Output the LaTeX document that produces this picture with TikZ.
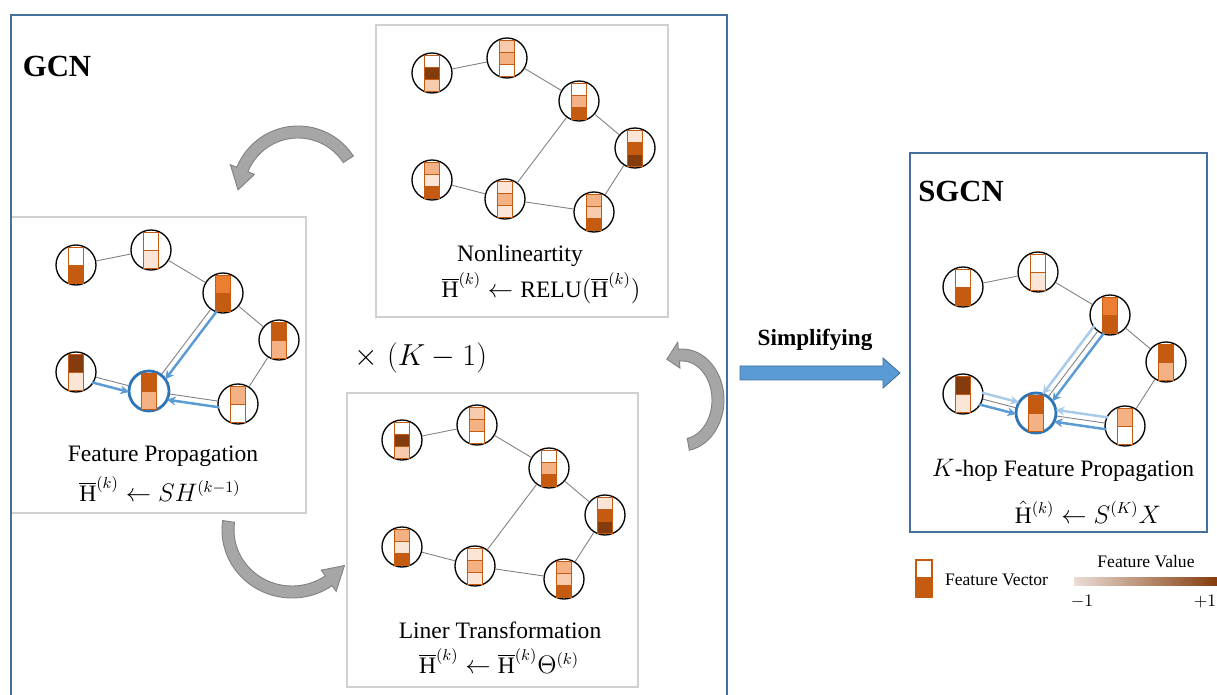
\documentclass[tikz,border=0pt]{standalone}
\usepackage{fontspec}
\setmainfont{Liberation Serif}
\usetikzlibrary{arrows.meta, calc}
\definecolor{cframe}{HTML}{41719C}
\definecolor{cpanel}{HTML}{D0D0D0}
\definecolor{cpale}{HTML}{FBE5D6}
\definecolor{cpeach}{HTML}{F8CBAD}
\definecolor{cmid}{HTML}{F4B183}
\definecolor{corange}{HTML}{ED7D31}
\definecolor{cdark}{HTML}{C55A11}
\definecolor{cbrown}{HTML}{843C0C}
\definecolor{cblue}{HTML}{5B9BD5}
\definecolor{clight}{HTML}{A9CBEA}
\definecolor{cring}{HTML}{2E75B6}
\definecolor{cgarrow}{HTML}{A6A6A6}
\definecolor{cgline}{HTML}{808080}
\definecolor{clow}{HTML}{EBDDD7}
\tikzset{
  every picture/.style={x=0.02cm, y=-0.02cm},
  gcnframe/.style={draw=cframe, line width=1.3pt},
  panel/.style={draw=cpanel, line width=0.8pt},
  vec/.style={circle, draw=black, fill=white, line width=0.75pt, minimum size=0.8cm, inner sep=0pt},
  hub/.style={vec, draw=cring, line width=1.6pt},
  link/.style={draw=cgline, line width=0.5pt},
  prop/.style={-{Stealth[length=5pt, width=5pt]}, draw=cblue, line width=1.4pt, shorten <=0.36cm, shorten >=0.38cm},
  propl/.style={prop, draw=clight},
  cyc/.style={fill=cgarrow, draw=cgline, line width=0.5pt},
  lbl/.style={font=\fontsize{13.4}{16}\selectfont, inner sep=1pt},
  title/.style={font=\fontsize{17.5}{20}\selectfont\bfseries},
  note/.style={font=\fontsize{10}{12}\selectfont, inner sep=1pt},
}
% one graph node with its feature vector (cells from the top)
\newcommand{\fvnode}[6][vec]{%
  \node[#1] (#2) at (#3,#4) {};
  \edef\fvlist{#6}%
  \foreach \c [count=\i from 0] in \fvlist
    \filldraw[fill=\c, draw=cdark, line width=0.5pt] ({#3-7.5},{#4-18+\i*#5}) rectangle ++(15,#5);
}
% graph with three-cell vectors, node 1 at (#2,#3)
\newcommand{\gcnthree}[3]{%
  \foreach \k/\dx/\dy/\cs in {1/0/0/{white,cbrown,cpeach}, 2/75/-15/{cpeach,cmid,white},
      3/147/28/{white,cmid,cdark}, 4/203/75/{cpale,cdark,cbrown}, 5/0/107/{cmid,cpale,cdark},
      6/73/126/{cpale,cmid,cpale}, 7/162/139/{cmid,cpeach,cdark}}
    {\fvnode{#1\k}{#2+\dx}{#3+\dy}{12}{\cs}}
  \foreach \a/\b in {1/2,2/3,3/4,4/7,3/6,5/6,6/7}
    \draw[link] (#1\a) -- (#1\b);
}
% graph with two-cell vectors, node 6 is the target
\newcommand{\gcntwo}[3]{%
  \foreach \k/\dx/\dy/\cs in {1/0/0/{white,cdark}, 2/75/-15/{white,cpale},
      3/147/28/{corange,cdark}, 4/203/75/{cdark,cmid}, 5/0/107/{cbrown,cpale},
      7/162/139/{cmid,white}}
    {\fvnode{#1\k}{#2+\dx}{#3+\dy}{18}{\cs}}
  \fvnode[hub]{#16}{#2+73}{#3+126}{18}{cdark,cmid}
  \foreach \a/\b in {1/2,2/3,3/4,4/7,3/6,5/6,6/7}
    \draw[link] (#1\a) -- (#1\b);
}
% grey cycle arrow on an elliptic arc
\newcommand{\cycarrow}[6]{%
  \filldraw[cyc] ($(#1,#2)+(#5:{#3+6} and {#4+6})$)
    arc[start angle=#5, end angle=#6, x radius={#3+6}, y radius={#4+6}]
    -- ($(#1,#2)+(#6:{#3+13} and {#4+13})$)
    -- ($(#1,#2)+(#6-20:#3 and #4)$)
    -- ($(#1,#2)+(#6:{#3-13} and {#4-13})$)
    -- ($(#1,#2)+(#6:{#3-6} and {#4-6})$)
    arc[start angle=#6, end angle=#5, x radius={#3-6}, y radius={#4-6}]
    -- cycle;
}

\begin{document}
\begin{tikzpicture}
  \path[use as bounding box, fill=white] (0,0) rectangle (1217,695);
  % the three GCN steps
  \draw[panel] (376,25) rectangle (668,317);
  \draw[panel] (11,217) rectangle (306,513);
  \draw[panel] (347,393) rectangle (638,687);
  \gcnthree{nl}{432}{73}
  \gcnthree{lt}{402}{440}
  \gcntwo{fp}{76}{265}
  \draw[prop] ($(fp3)!0.12cm!90:(fp6)$) -- ($(fp6)!0.12cm!-90:(fp3)$);
  \draw[prop] ($(fp5)!0.12cm!-90:(fp6)$) -- ($(fp6)!0.12cm!90:(fp5)$);
  \draw[prop] ($(fp7)!0.12cm!90:(fp6)$) -- ($(fp6)!0.12cm!-90:(fp7)$);
  \node[lbl] (nltxt) at (520,256) {Nonlineartity};
  \node[lbl] (nlfx) at (541,288) {$\overline{\mathrm{H}}^{(k)} \leftarrow \mathrm{RELU}(\overline{\mathrm{H}}^{(k)})$};
  \node[lbl] (fptxt) at (163,456) {Feature Propagation};
  \node[lbl] (fpfx) at (160,489) {$\overline{\mathrm{H}}^{(k)} \leftarrow SH^{(k-1)}$};
  \node[lbl] (lttxt) at (500,630) {Liner Transformation};
  \node[lbl] (ltfx) at (499,661) {$\overline{\mathrm{H}}^{(k)} \leftarrow \overline{\mathrm{H}}^{(k)}\Theta^{(k)}$};
  \node[font=\fontsize{16}{19}\selectfont] (rep) at (421,358) {$\times\;(K-1)$};
  \cycarrow{298}{192}{60}{60}{-33}{-158}
  \cycarrow{292}{530}{64}{62}{188}{55}
  \cycarrow{682}{400}{36}{45}{80}{-95}
  \draw[gcnframe] (11,695) |- (727,15) -- (727,695);
  \node[title] (gcn) at (57,66) {GCN};
  % simplifying
  \node[font=\fontsize{13.2}{16}\selectfont\bfseries] (simp) at (815,340) {Simplifying};
  \filldraw[fill=cblue, draw=cframe, line width=0.5pt] (740,366) -- (883,366) -- (883,358) -- (900,373)
    -- (883,388) -- (883,380) -- (740,380) -- cycle;
  % SGCN
  \draw[gcnframe] (910,153) rectangle (1207,532);
  \node[title] (sgcn) at (961,191) {SGCN};
  \gcntwo{sg}{963}{287}
  \draw[propl] ($(sg3)!0.12cm!-90:(sg6)$) -- ($(sg6)!0.12cm!90:(sg3)$);
  \draw[propl] ($(sg5)!0.12cm!90:(sg6)$) -- ($(sg6)!0.12cm!-90:(sg5)$);
  \draw[propl] ($(sg7)!0.12cm!-90:(sg6)$) -- ($(sg6)!0.12cm!90:(sg7)$);
  \draw[prop] ($(sg3)!0.12cm!90:(sg6)$) -- ($(sg6)!0.12cm!-90:(sg3)$);
  \draw[prop] ($(sg5)!0.12cm!-90:(sg6)$) -- ($(sg6)!0.12cm!90:(sg5)$);
  \draw[prop] ($(sg7)!0.12cm!90:(sg6)$) -- ($(sg6)!0.12cm!-90:(sg7)$);
  \node[lbl] (sgtxt) at (1063,470) {$K$-hop Feature Propagation};
  \node[lbl] (sgfx) at (1088,512) {$\hat{\mathrm{H}}^{(k)} \leftarrow S^{(K)}X$};
  % legend
  \filldraw[fill=white, draw=cdark, line width=0.6pt] (916,560) rectangle (932,578);
  \filldraw[fill=cdark, draw=cdark, line width=0.6pt] (916,578) rectangle (932,597);
  \node[note, anchor=west] (fvec) at (943,580) {Feature Vector};
  \node[note] (fval) at (1146,562) {Feature Value};
  \shade[left color=clow, right color=cbrown] (1074,577) rectangle (1217,585);
  \node[note] (lo) at (1082,602) {$-1$};
  \node[note] (hi) at (1205,602) {$+1$};
\end{tikzpicture}
\end{document}
